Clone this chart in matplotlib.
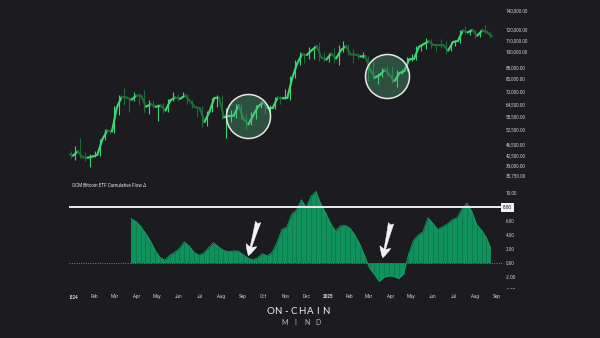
import matplotlib
matplotlib.use('Agg')
import matplotlib.pyplot as plt
import matplotlib.dates as mdates
from matplotlib.patches import Rectangle
from matplotlib.collections import LineCollection
import pandas as pd
import numpy as np

plt.rcParams['font.family'] = ['Roboto', 'DejaVu Sans']

BG = '#1b1b20'
UP = '#3dd672'
DOWN = '#1e6b38'
BAR = '#10925c'
BAR_EDGE = '#0c7548'
TXT = '#cfcfcf'

# ---------------- data ----------------
price_weeks = pd.date_range('2023-12-25', periods=87, freq='7D')
price_first_open = 43000
price_close = [42300, 43900, 41700, 41600, 42000, 42600, 48300, 52100, 51700, 63100,
               68900, 68400, 67200, 69600, 69400, 63400, 64900, 63400, 64000, 61500,
               66900, 68500, 67700, 69600, 66600, 63200, 62700, 55900, 60800, 68200,
               68300, 58100, 58700, 58900, 64200, 57300, 54800, 59100, 63600, 65600,
               62800, 62800, 68400, 68000, 68300, 80400, 90600, 97900, 97300, 101200,
               104500, 95200, 93700, 98300, 94500, 101300, 104700, 97700, 97500, 96100,
               96300, 86100, 80700, 82600, 86100, 82400, 78400, 83800, 85100, 93800,
               94300, 104100, 106500, 109000, 105700, 105600, 105500, 100900, 108400, 109200,
               119100, 117300, 119500, 114200, 119300, 117400, 113500]
price_high = [43800, 45900, 49000, 43600, 42800, 43900, 48600, 52800, 52900, 64000,
              70000, 73800, 68900, 71700, 71300, 72700, 66800, 67200, 64700, 65500,
              67400, 71900, 70600, 71900, 70200, 66900, 63400, 63800, 61400, 68300,
              70000, 70000, 62700, 61800, 65000, 64900, 59800, 60600, 64100, 66500,
              65500, 64500, 69000, 69500, 73600, 81500, 93400, 99600, 98900, 103900,
              105200, 108300, 99900, 99000, 102700, 106000, 109600, 106400, 102500, 99000,
              99500, 96500, 95000, 84000, 87400, 88700, 88500, 86100, 86500, 95800,
              97900, 104900, 106800, 111900, 110700, 106800, 110600, 108900, 108500, 110500,
              119500, 123200, 120200, 119800, 119400, 124500, 117600]
price_low = [41500, 40800, 41500, 40600, 38500, 41800, 42300, 48200, 50600, 50900,
             59000, 64500, 60800, 66700, 64500, 60700, 59700, 62800, 56500, 60200,
             60800, 66600, 66600, 68500, 65100, 63000, 58400, 53500, 54300, 60700,
             63500, 57200, 49000, 56100, 57900, 57200, 52600, 54600, 57500, 62700,
             59800, 58900, 62400, 65100, 67500, 66800, 80300, 89400, 90800, 94000,
             94200, 92200, 92500, 91500, 91200, 89300, 99600, 97500, 91200, 94100,
             94900, 78200, 80000, 76600, 81200, 81600, 77100, 74400, 83000, 85100,
             92800, 93400, 100800, 102000, 103100, 100400, 102700, 98200, 100900, 105100,
             107500, 115700, 114700, 112000, 112700, 116800, 112000]

flow_weeks = pd.date_range('2024-03-24', periods=74, freq='7D')
flow_end = '2025-08-22'
flow_values = [6.4, 6.0, 5.3, 4.3, 3.2, 1.8, 0.8, 0.35, 1.1, 1.5,
               2.1, 3.0, 2.4, 1.5, 1.1, 1.4, 2.2, 2.9, 2.3, 1.8,
               1.6, 1.7, 1.7, 1.2, 0.7, 0.4, 0.7, 1.3, 1.0, 1.5,
               2.9, 4.8, 5.1, 7.0, 7.6, 9.1, 8.0, 9.6, 10.3, 8.5,
               7.2, 5.7, 4.6, 5.3, 5.4, 5.0, 4.0, 2.7, 1.0, -0.8,
               -1.7, -2.7, -2.1, -1.9, -2.0, -2.3, -1.6, 1.2, 3.2, 4.0,
               4.5, 6.5, 5.7, 4.8, 5.2, 5.6, 6.2, 6.5, 7.8, 8.6,
               7.4, 5.5, 4.7, 3.6]
flow_end_value = 2.4

price_ticks = [35750, 39000, 42500, 46500, 52500, 58500, 64500, 72000, 80000,
               88000, 100000, 110000, 120000, 140000]
flow_ticks = [-2, 0, 2, 4, 6, 10]
flow_level = 8
month_ticks = pd.date_range('2024-01-01', '2025-09-01', freq='MS')
month_labels = ['2024', 'Feb', 'Mar', 'Apr', 'May', 'Jun', 'Jul', 'Aug', 'Sep', 'Oct',
                'Nov', 'Dec', '2025', 'Feb', 'Mar', 'Apr', 'May', 'Jun', 'Jul', 'Aug', 'Sep']

circle_dates = ['2024-09-08', '2025-03-27']
circle_prices = [58800, 81700]
arrow_tails = [('2024-09-23', 5.9), ('2025-04-02', 5.7)]
arrow_tips = [('2024-09-09', 1.0), ('2025-03-21', 0.7)]

# ---------------- figure ----------------
W, H = 600, 338
fig = plt.figure(figsize=(6, 3.38), dpi=100, facecolor=BG)
ax1 = fig.add_axes([69 / W, 158 / H, 434 / W, 180 / H])
ax2 = fig.add_axes([69 / W, 48.5 / H, 434 / W, 108.5 / H], sharex=ax1)

for ax in (ax1, ax2):
    ax.set_facecolor(BG)
    for s in ax.spines.values():
        s.set_visible(False)
    ax.tick_params(length=0, colors=TXT, labelsize=3.3)

jan1 = mdates.date2num(pd.Timestamp('2024-01-01'))
ax1.set_xlim(jan1 - 5.75, jan1 + 617.8)

# price: weekly open->close strokes plus high/low wicks
opens = [price_first_open] + price_close[:-1]
starts = mdates.date2num(price_weeks)
cols = [UP if c >= o else DOWN for o, c in zip(opens, price_close)]
segs = [[(s, o), (s + 7, c)] for s, o, c in zip(starts, opens, price_close)]
ax1.set_yscale('log')
ax1.add_collection(LineCollection(segs, colors=cols, linewidths=1.5, capstyle='round', zorder=3))
ax1.vlines(starts + 3.5, price_low, price_high, colors=cols, linewidth=0.8, zorder=2)

ax1.set_ylim(34600, 153300)
ax1.yaxis.tick_right()
ax1.set_yticks(price_ticks)
ax1.set_yticklabels(['{:,.2f}'.format(v) for v in price_ticks])
ax1.yaxis.set_minor_locator(matplotlib.ticker.NullLocator())
ax1.tick_params(axis='y', pad=2.2)
ax1.tick_params(axis='x', labelbottom=False)

# circles
ax1.scatter(mdates.date2num(pd.to_datetime(circle_dates)), circle_prices, s=(44 * 0.72) ** 2,
            facecolor=(0.33, 0.75, 0.52, 0.33), edgecolor='#e4ebe5', linewidths=1.1, zorder=6)

# flow histogram
fx = np.append(mdates.date2num(flow_weeks), mdates.date2num(pd.Timestamp(flow_end)))
fv = np.array(flow_values + [flow_end_value])
ax2.fill_between(fx, 0, fv, color=BAR, linewidth=0, zorder=2)
ax2.vlines(fx[1:-1], 0, fv[1:-1], colors=BAR_EDGE, linewidth=0.5, zorder=3)
ax2.plot(fx, fv, color='#15a567', linewidth=0.5, zorder=3)
ax2.vlines([fx[0], fx[-1]], 0, [fv[0], fv[-1]], colors=BAR, linewidth=0.6, zorder=3)
ax2.axhline(0, color='#8a8a8a', linewidth=0.6, linestyle=(0, (1.2, 1.6)), zorder=1)
ax2.axhline(flow_level, color='#ececec', linewidth=1.4, zorder=4)
ax2.set_ylim(-3.87, 11.80)
ax2.yaxis.tick_right()
ax2.set_yticks(flow_ticks)
ax2.set_yticklabels(['{:.2f}'.format(v) for v in flow_ticks])
ax2.tick_params(axis='y', pad=2.2)
ytr = ax2.get_yaxis_transform()
ax2.text(1.0, flow_level, '{:.2f}'.format(flow_level), transform=ytr, ha='left', va='center',
         fontsize=3.3, color='#111111',
         bbox=dict(boxstyle='square,pad=0.45', facecolor='#f2f2f2', edgecolor='none'))
t4 = ax2.text(1.0 + 2.9 / 434, -4, '-4.00', transform=ytr, ha='left', va='center',
              fontsize=3.3, color=TXT, clip_on=True)
t4.set_clip_path(Rectangle((0, 48.6 / H), 1, 1, transform=fig.transFigure))

# x ticks
ax2.set_xticks(mdates.date2num(month_ticks[1:]))
ax2.set_xticklabels(month_labels[1:])
ax2.tick_params(axis='x', pad=3.2)
for lab in ax2.get_xticklabels():
    if lab.get_text().isdigit():
        lab.set_fontweight('bold')
t24 = ax2.text(mdates.date2num(month_ticks[0]), 0, month_labels[0], transform=ax2.get_xaxis_transform(),
               ha='center', va='top', fontsize=3.3, color=TXT, fontweight='bold', clip_on=True)
t24.set_y(-(3.2 / 0.72 + 1.5) / 108.5)
t24.set_clip_path(Rectangle((69.6 / W, 0), 1, 1, transform=fig.transFigure))

# title
ax2.text(3 / 434, 1 - 4.5 / 108.5, 'OCM Bitcoin ETF Cumulative Flow Δ', transform=ax2.transAxes,
         ha='left', va='center', fontsize=3.3, color='#e6e6e6')

# arrows
for (td, tv), (hd, hv) in zip(arrow_tails, arrow_tips):
    ax2.annotate('', xy=(mdates.date2num(pd.Timestamp(hd)), hv),
                 xytext=(mdates.date2num(pd.Timestamp(td)), tv),
                 arrowprops=dict(arrowstyle='fancy,head_length=0.8,head_width=0.8,tail_width=0.4',
                                 facecolor='#f2f2f2', edgecolor='#f2f2f2', linewidth=0.3,
                                 mutation_scale=10, shrinkA=0, shrinkB=0),
                 zorder=7)

# watermark
for i, ch in enumerate('ON-CHAIN'):
    fig.text((270.3 + i * 7.9) / W, 1 - 311.7 / H, ch, ha='center', va='center',
             fontsize=7, color='#f0f0f0', family=['Lato', 'DejaVu Sans'])
for i, ch in enumerate('MIND'):
    fig.text((284.2 + i * 11.4) / W, 1 - 322.5 / H, ch, ha='center', va='center',
             fontsize=5, color='#bdbdbd', family=['Lato', 'DejaVu Sans'])

fig.savefig('out.png', dpi=100, facecolor=BG)
